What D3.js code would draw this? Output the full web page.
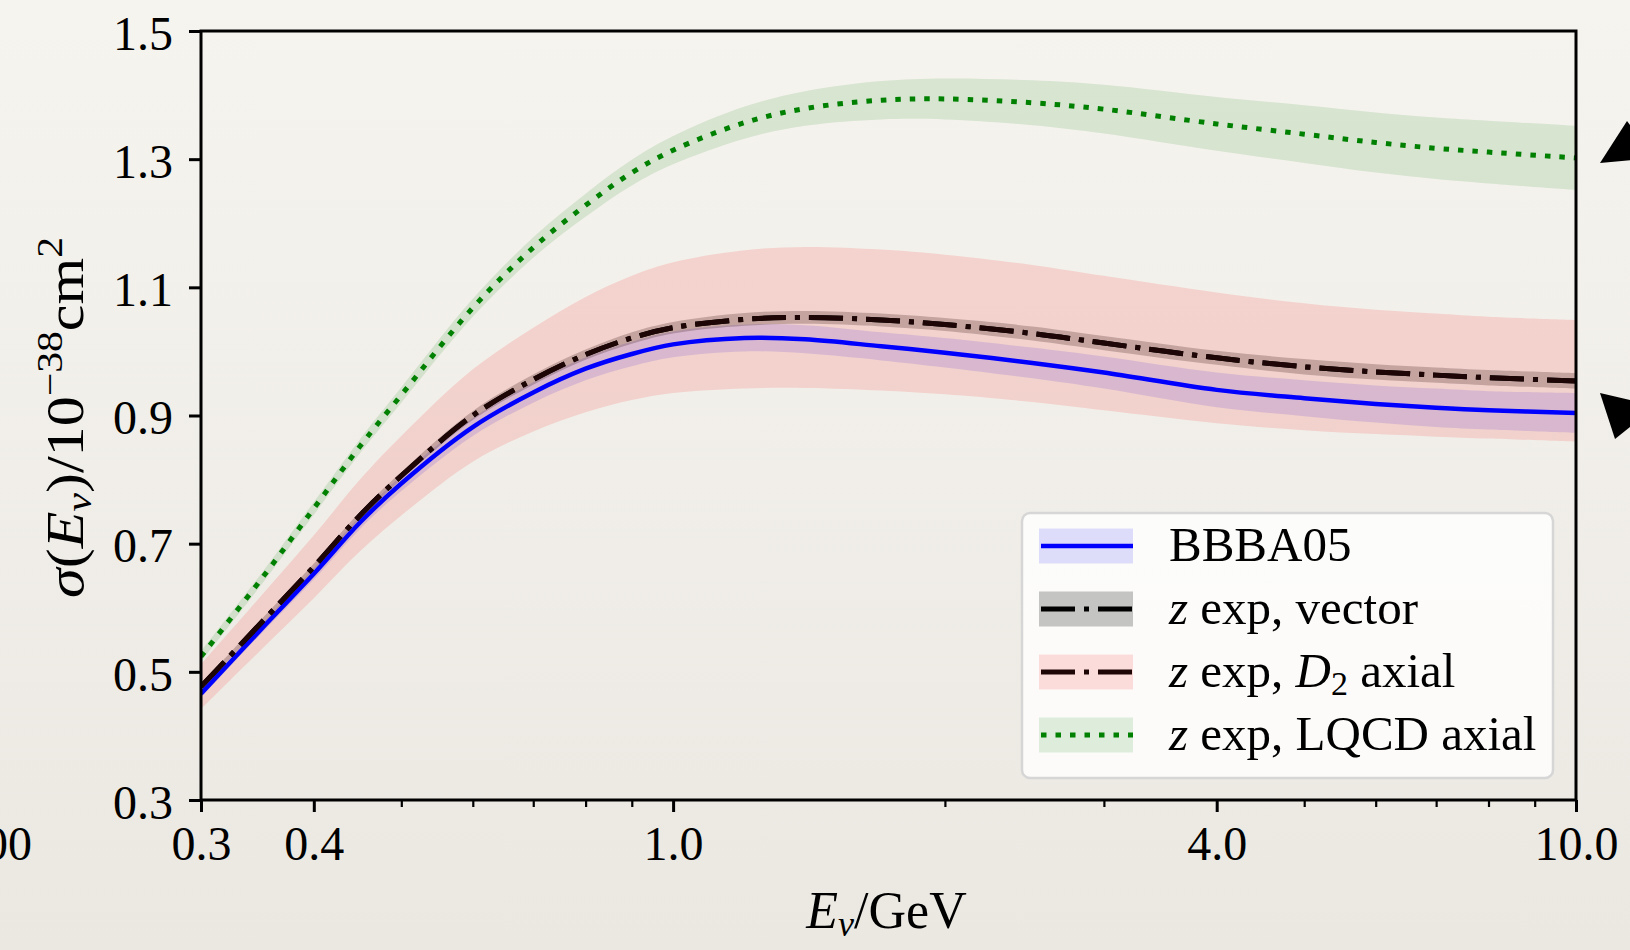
<!DOCTYPE html>
<html>
<head>
<meta charset="utf-8">
<script src="https://cdnjs.cloudflare.com/ajax/libs/d3/7.8.5/d3.min.js"></script>
<style>
  body { margin: 0; background: #f1efea; }
  text { font-family: "Liberation Serif", "DejaVu Serif", serif; fill: #000; }
</style>
</head>
<body>
<svg id="chart" width="1630" height="950"></svg>
<script>
// neutrino energy grid (GeV) the curves were read at
var energy = [0.3, 0.35, 0.4, 0.45, 0.5, 0.6, 0.7, 0.8, 0.9, 1.0, 1.2, 1.4, 1.7, 2.0, 2.5, 3.0, 4.0, 5.0, 6.0, 7.0, 8.0, 10.0];

// sigma in 1e-38 cm^2, central value and half width of the band
var bbba05    = [0.466, 0.567, 0.653, 0.733, 0.794, 0.882, 0.936, 0.973, 0.996, 1.011, 1.021, 1.019, 1.008, 0.998, 0.982, 0.967, 0.940, 0.927, 0.918, 0.912, 0.908, 0.904];
var bbba05Err = [0.006, 0.007, 0.009, 0.010, 0.012, 0.014, 0.016, 0.018, 0.019, 0.020, 0.021, 0.022, 0.022, 0.023, 0.024, 0.025, 0.027, 0.028, 0.029, 0.030, 0.030, 0.031];

var zVector    = [0.477, 0.577, 0.664, 0.744, 0.806, 0.900, 0.956, 0.995, 1.021, 1.037, 1.050, 1.053, 1.049, 1.042, 1.028, 1.013, 0.990, 0.976, 0.968, 0.963, 0.959, 0.954];
var zVectorErr = [0.004, 0.005, 0.005, 0.006, 0.006, 0.007, 0.008, 0.008, 0.009, 0.009, 0.010, 0.010, 0.010, 0.010, 0.011, 0.011, 0.011, 0.012, 0.012, 0.012, 0.012, 0.012];

var zD2    = [0.477, 0.577, 0.664, 0.744, 0.806, 0.900, 0.956, 0.995, 1.021, 1.037, 1.050, 1.053, 1.049, 1.042, 1.028, 1.013, 0.990, 0.976, 0.968, 0.963, 0.959, 0.954];
var zD2Err = [0.035, 0.042, 0.049, 0.056, 0.062, 0.072, 0.081, 0.090, 0.097, 0.102, 0.108, 0.110, 0.110, 0.109, 0.107, 0.105, 0.102, 0.099, 0.097, 0.096, 0.095, 0.095];

var zLqcd    = [0.524, 0.645, 0.755, 0.852, 0.932, 1.068, 1.162, 1.228, 1.279, 1.314, 1.357, 1.379, 1.392, 1.394, 1.388, 1.378, 1.355, 1.339, 1.326, 1.317, 1.311, 1.302];
var zLqcdErr = [0.008, 0.009, 0.010, 0.011, 0.012, 0.014, 0.016, 0.018, 0.020, 0.022, 0.025, 0.027, 0.030, 0.032, 0.035, 0.038, 0.042, 0.045, 0.047, 0.048, 0.049, 0.050];

var yTicks = [0.3, 0.5, 0.7, 0.9, 1.1, 1.3, 1.5];
var xMajorTicks = [0.3, 0.4, 1.0, 4.0, 10.0];
var xMinorTicks = [0.5, 0.6, 0.7, 0.8, 0.9, 2, 3, 5, 6, 7, 8, 9];

// the two arrow heads at the right edge point at these values
var arrowTargets = [1.294, 0.935];

var margin = { top: 31, right: 54, bottom: 150, left: 201 };
var W = 1630, H = 950;
var width = W - margin.left - margin.right;
var height = H - margin.top - margin.bottom;

var svg = d3.select("#chart");

// paper background
var defs = svg.append("defs");
var grad = defs.append("linearGradient").attr("id", "paper")
  .attr("x1", 0).attr("y1", 0).attr("x2", 0).attr("y2", 1);
grad.append("stop").attr("offset", "0%").attr("stop-color", "#f6f4ef");
grad.append("stop").attr("offset", "100%").attr("stop-color", "#ebe8e2");
defs.append("clipPath").attr("id", "plotclip")
  .append("rect").attr("width", width).attr("height", height);

svg.append("rect").attr("width", W).attr("height", H).attr("fill", "url(#paper)");

var g = svg.append("g").attr("transform", "translate(" + margin.left + "," + margin.top + ")");

var x = d3.scaleLog().domain([0.3, 10]).range([0, width]);
var y = d3.scaleLinear().domain([0.3, 1.5]).range([height, 0]);

function rows(vals, errs) {
  return energy.map(function(e, i) {
    return { e: e, v: vals[i], lo: vals[i] - errs[i], hi: vals[i] + errs[i] };
  });
}

var series = [
  { key: "bbba", data: rows(bbba05, bbba05Err), band: "blue", bandOp: 0.12, line: "#0000ff", width: 4.5, dash: null },
  { key: "vec", data: rows(zVector, zVectorErr), band: "#000", bandOp: 0.22, line: "#000", width: 5, dash: "34,9,5,9" },
  { key: "d2", data: rows(zD2, zD2Err), band: "red", bandOp: 0.12, line: "#1e0606", width: 5, dash: "34,9,5,9" },
  { key: "lqcd", data: rows(zLqcd, zLqcdErr), band: "green", bandOp: 0.12, line: "#008000", width: 5, dash: "5.5,9" }
];

var curve = d3.curveCatmullRom.alpha(0.5);

var area = d3.area()
  .x(function(d) { return x(d.e); })
  .y0(function(d) { return y(d.lo); })
  .y1(function(d) { return y(d.hi); })
  .curve(curve);

var line = d3.line()
  .x(function(d) { return x(d.e); })
  .y(function(d) { return y(d.v); })
  .curve(curve);

var plot = g.append("g").attr("clip-path", "url(#plotclip)");

plot.selectAll(".band").data(series).enter()
  .append("path")
  .attr("class", "band")
  .attr("d", function(d) { return area(d.data); })
  .attr("fill", function(d) { return d.band; })
  .attr("fill-opacity", function(d) { return d.bandOp; })
  .attr("stroke", "none");

plot.selectAll(".curve").data(series).enter()
  .append("path")
  .attr("class", "curve")
  .attr("d", function(d) { return line(d.data); })
  .attr("fill", "none")
  .attr("stroke", function(d) { return d.line; })
  .attr("stroke-width", function(d) { return d.width; })
  .attr("stroke-dasharray", function(d) { return d.dash; });

// axes
var fs = 48;
var xAxis = d3.axisBottom(x).tickValues(xMajorTicks).tickFormat(d3.format(".1f"))
  .tickSizeInner(12).tickSizeOuter(0).tickPadding(14);
var xMinor = d3.axisBottom(x).tickValues(xMinorTicks).tickFormat("")
  .tickSizeInner(7).tickSizeOuter(0);
var yAxis = d3.axisLeft(y).tickValues(yTicks).tickFormat(d3.format(".1f"))
  .tickSizeInner(12).tickSizeOuter(0).tickPadding(16);

var gx = g.append("g").attr("transform", "translate(0," + height + ")").call(xAxis);
var gxm = g.append("g").attr("transform", "translate(0," + height + ")").call(xMinor);
var gy = g.append("g").call(yAxis);

[gx, gxm, gy].forEach(function(ax) {
  ax.attr("font-size", fs).attr("font-family", null);
  ax.select(".domain").remove();
  ax.selectAll(".tick line").attr("stroke", "#000").attr("stroke-width", 3);
});
gxm.selectAll(".tick line").attr("stroke-width", 2.2);
gy.selectAll(".tick text").attr("dy", "0.38em");

// frame
g.append("rect").attr("width", width).attr("height", height)
  .attr("fill", "none").attr("stroke", "#000").attr("stroke-width", 3);

// clipped label of a neighbouring panel
svg.append("text").attr("x", 32).attr("y", 860).attr("text-anchor", "end")
  .attr("font-size", fs).text("00");

// axis labels
var xl = g.append("text").attr("text-anchor", "middle").attr("font-size", 52)
  .attr("transform", "translate(" + (width / 2 - 2) + "," + (H - margin.top - 22) + ")");
xl.append("tspan").attr("font-style", "italic").text("E");
xl.append("tspan").attr("font-style", "italic").attr("font-size", 36).attr("dy", 8).text("ν");
xl.append("tspan").attr("dy", -8).text("/GeV");

var yl = svg.append("text").attr("text-anchor", "middle").attr("font-size", 52);
yl.append("tspan").attr("font-style", "italic").text("σ");
yl.append("tspan").text("(");
yl.append("tspan").attr("font-style", "italic").text("E");
yl.append("tspan").attr("font-style", "italic").attr("font-size", 36).attr("dy", 8).text("ν");
yl.append("tspan").attr("dy", -8).text(")/10");
yl.append("tspan").attr("font-size", 36).attr("dy", -21).text("−38");
yl.append("tspan").attr("dy", 21).text("cm");
yl.append("tspan").attr("font-size", 36).attr("dy", -21).text("2");
var ylLen = yl.node().getComputedTextLength();
yl.attr("transform", "translate(83," + (margin.top + height / 2 + 2) + ") rotate(-90) scale(" + (361 / ylLen) + ",1)");

// legend
var lx = 1022, ly = 513, lw = 531, lh = 265, rowGap = 63;
var leg = svg.append("g");
leg.append("rect").attr("x", lx).attr("y", ly).attr("width", lw).attr("height", lh)
  .attr("rx", 8).attr("fill", "#fff").attr("fill-opacity", 0.8)
  .attr("stroke", "#d6d6d6").attr("stroke-width", 2.5);

var legendLabels = [
  [{ t: "BBBA05" }],
  [{ t: "z", i: 1 }, { t: " exp, vector" }],
  [{ t: "z", i: 1 }, { t: " exp, " }, { t: "D", i: 1 }, { t: "2", sub: 1 }, { t: " axial" }],
  [{ t: "z", i: 1 }, { t: " exp, LQCD axial" }]
];

series.forEach(function(s, k) {
  var cy = ly + 33 + k * rowGap;
  var row = leg.append("g");
  row.append("rect").attr("x", lx + 17).attr("y", cy - 17.5).attr("width", 94).attr("height", 35)
    .attr("fill", s.band).attr("fill-opacity", s.bandOp);
  row.append("line").attr("x1", lx + 19).attr("x2", lx + 111).attr("y1", cy).attr("y2", cy)
    .attr("stroke", s.line).attr("stroke-width", s.width).attr("stroke-dasharray", s.dash);
  var t = row.append("text").attr("x", lx + 147).attr("y", cy + 15).attr("font-size", 49);
  legendLabels[k].forEach(function(p) {
    var ts = t.append("tspan").text(p.t);
    if (p.i) ts.attr("font-style", "italic");
    if (p.sub) { ts.attr("font-size", 34).attr("dy", 8); }
    else if (k === 2 && p.t === " axial") ts.attr("dy", -8);
  });
});

// arrow heads sticking in from the right margin
var arrowShapes = [
  [[0, 0], [27, -42], [54, -5]],
  [[0, 0], [15, 46], [56, 13]]
];
arrowTargets.forEach(function(v, k) {
  var tx = margin.left + x(10) + 24, ty = margin.top + y(v);
  svg.append("path")
    .attr("d", "M" + arrowShapes[k].map(function(p) { return (tx + p[0]) + "," + (ty + p[1]); }).join("L") + "Z")
    .attr("fill", "#000");
});
</script>
</body>
</html>
